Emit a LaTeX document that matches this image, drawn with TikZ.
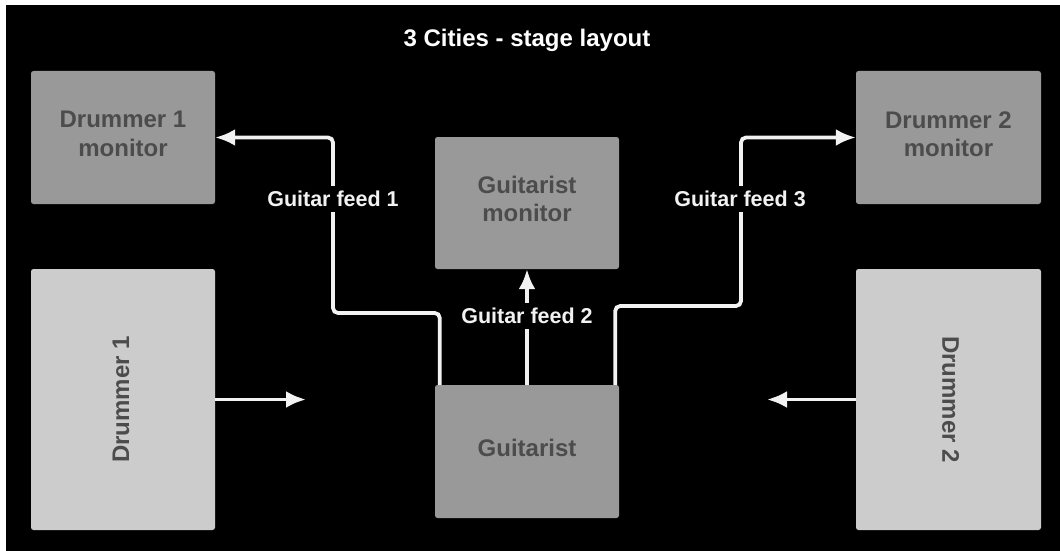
\documentclass[tikz,border=0pt]{standalone}
\usepackage{fontspec}
\setmainfont{Liberation Sans}
\usetikzlibrary{arrows.meta,calc}
\definecolor{midbox}{HTML}{999999}
\definecolor{lightbox}{HTML}{CCCCCC}
\definecolor{boxtext}{HTML}{4C4C4C}
\definecolor{feedline}{HTML}{F2F2F2}
\tikzset{
  stagebox/.style={rectangle, rounded corners=2.5pt, inner sep=0pt},
  monbox/.style={stagebox, fill=midbox},
  playerbox/.style={stagebox, fill=lightbox},
  boxlabel/.style={align=center, text=boxtext, inner sep=0pt,
    font=\fontsize{24}{28.5}\selectfont\bfseries},
  feed/.style={draw=feedline, line width=3.8pt, rounded corners=5pt,
    -{Latex[length=20pt,width=17pt]}},
  feedlabel/.style={fill=black, text=feedline, inner xsep=3pt, inner ysep=5.5pt,
    font=\fontsize{21.5}{26}\selectfont\bfseries},
  titletext/.style={text=white, font=\fontsize{24}{29}\selectfont\bfseries}
}
\begin{document}
\begin{tikzpicture}[x=1pt,y=-1pt]
  % page and stage area
  \fill[white] (0,0) rectangle (1060,551);
  \fill[black] (5.5,5.5) rectangle (1060,551);
  \useasboundingbox (0,0) rectangle (1060,551);

  \node[titletext] (title) at (527,40) {3 Cities - stage layout};

  % monitors
  \node[monbox, minimum width=184pt, minimum height=133pt] (d1m) at (123,137.5) {};
  \node[monbox, minimum width=185pt, minimum height=133pt] (d2m) at (948.5,137.5) {};
  \node[monbox, minimum width=184pt, minimum height=132pt] (gm) at (527,203) {};
  \node[boxlabel] (d1mt) at ($(d1m.center)+(0,-3.5)$) {Drummer 1\\monitor};
  \node[boxlabel] (d2mt) at ($(d2m.center)+(0,-3.5)$) {Drummer 2\\monitor};
  \node[boxlabel] (gmt) at ($(gm.center)+(0,-4)$) {Guitarist\\monitor};

  % players
  \node[playerbox, minimum width=184pt, minimum height=261pt] (d1) at (123,399.5) {};
  \node[boxlabel, rotate=90] (d1t) at ($(d1.center)+(-2,0)$) {Drummer 1};
  \node[playerbox, minimum width=185pt, minimum height=261pt] (d2) at (948.5,399.5) {};
  \node[boxlabel, rotate=-90] (d2t) at ($(d2.center)+(2,0)$) {Drummer 2};
  \node[monbox, minimum width=184pt, minimum height=133pt] (g) at (527,451.5) {};
  \node[boxlabel] (gt) at ($(g.center)+(0,-4)$) {Guitarist};

  % guitar feeds
  \coordinate (f1s) at ($(g.north west)+(5,0)$);
  \coordinate (f3s) at ($(g.north east)+(-4,0)$);
  \draw[feed] (f1s) |- (333,313) |- (d1m.east);
  \draw[feed] (f3s) |- (741,306) |- (d2m.west);
  \draw[feed] (g.north) -- (gm.south);

  % drummers playing towards the guitarist
  \coordinate (d1tip) at (306,399.5);
  \coordinate (d2tip) at (767,399.5);
  \draw[feed] (d1.east) -- (d1tip);
  \draw[feed] (d2.west) -- (d2tip);

  % feed labels
  \node[feedlabel] (l1) at (333,199) {Guitar feed 1};
  \node[feedlabel] (l2) at (527,316) {Guitar feed 2};
  \node[feedlabel] (l3) at (740,199) {Guitar feed 3};
\end{tikzpicture}
\end{document}
